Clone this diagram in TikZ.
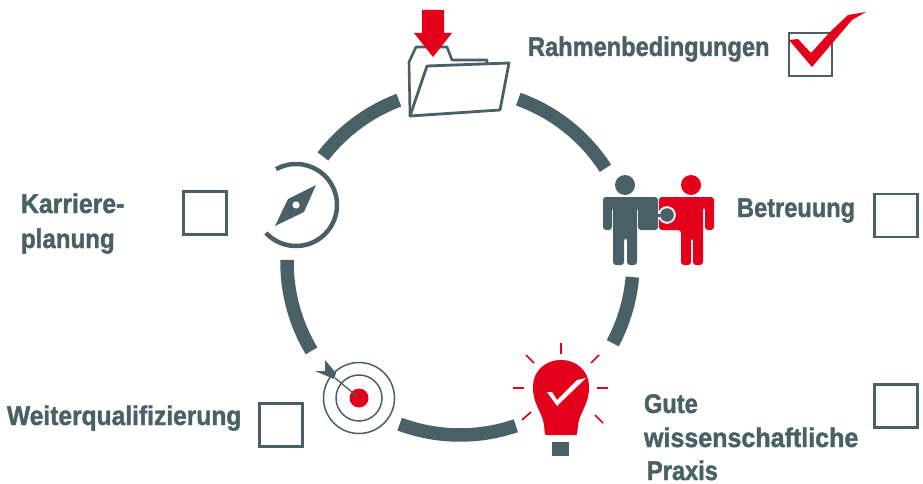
\documentclass[tikz,border=0pt]{standalone}
\usepackage{fontspec}
\newfontface\lblface{Liberation Sans Bold}[FakeStretch=0.875,FakeBold=1.4]
\definecolor{slate}{HTML}{47605F}
\definecolor{slate}{HTML}{486066}
\definecolor{signal}{HTML}{E2001A}
\tikzset{
 lbl/.style={anchor=base west,inner sep=0pt,outer sep=0pt,text=slate,font=\lblface\fontsize{27}{30}\selectfont},
 tick/.style={draw=slate,line width=2.6pt,fill=white,minimum size=43pt,inner sep=0pt},
 ringarc/.style={draw=slate,line width=13.5pt},
 ray/.style={draw=signal,line width=1.7pt},
 ringline/.style={draw=slate,line width=1.5pt},
}
\begin{document}
\begin{tikzpicture}[x=1pt,y=-1pt]
\useasboundingbox (0,0) rectangle (923,484);
% ring
\foreach \a/\b in {70.3/32.8, -5/-28, -71.2/-110.4, -149.1/-180.7, 142.4/110.7}{
 \draw[ringarc] plot[domain=\a:\b,samples=40,smooth] ({460+173*cos(\x)},{262-173*sin(\x)});
}
% folder
\draw[slate,line width=2.6pt,line join=round,fill=white] (410,116)--(409,62)--(416,47)--(447,47)--(452,60)--(487,60)--(487,63);
\draw[slate,line width=2.8pt,line join=round,fill=white] (427,66)--(509,63)--(500,110)--(410,116)--cycle;
\fill[signal] (422,10)--(444,10)--(444,33)--(452,33)--(433,57)--(414,33)--(422,33)--cycle;
% big check box
\node[tick] (box1) at (810.5,54.5) {};
\fill[signal] (789,40)--(798,39)--(811,53)--(830,32)--(848,15)--(866,12)--(852,20)--(812,67)--cycle;
% persons
\fill[slate] (625,185) circle[radius=10];
\fill[slate,rounded corners=3pt] (603,230)--(603,197)--(658,197)--(658,230)--(638,230)--(638,207)--(637,207)--(637,265)--(627,265)--(627,238)--(624,238)--(624,265)--(613,265)--(613,207)--(612,207)--(612,230)--cycle;
\fill[signal] (691,185) circle[radius=10];
\fill[signal,rounded corners=3pt] (659,197)--(714,197)--(714,230)--(705,230)--(705,207)--(703,207)--(703,265)--(693,265)--(693,238)--(691,238)--(691,265)--(681,265)--(681,230)--(659,230)--cycle;
\fill[white] (667,215) circle[radius=8.8];
\fill[white] (659,212.5) rectangle (668,217.5);
\fill[slate] (667,215) circle[radius=6.8];
\fill[slate] (657,213.5) rectangle (665,216.5);
% bulb
\fill[signal,rounded corners=1pt] (545,435)--(544,425) .. controls (542,412) and (533,404) .. (533,387)
 .. controls (533,371) and (546,360) .. (561,360) .. controls (576,360) and (589,371) .. (589,387)
 .. controls (589,404) and (580,412) .. (578,425)--(577,435)--cycle;
\fill[white] (547,392)--(552,392)--(557,400)--(577,380)--(586,378)--(557,406)--cycle;
\fill[slate] (552,442) rectangle (569,456);
\draw[ray] (561,343)--(561,354);
\draw[ray] (526,355)--(534,363);
\draw[ray] (599,355)--(591,363);
\draw[ray] (513,388)--(524,388);
\draw[ray] (597,388)--(608,388);
\draw[ray] (522,420)--(531,412);
\draw[ray] (603,423)--(595,415);
% target
\draw[ringline] (359,398) circle[radius=35.5];
\draw[ringline] (359,398) circle[radius=23];
\fill[signal] (359,398) circle[radius=9.5];
\draw[slate,line width=1.3pt] (358,397)--(335,378);
\fill[slate] (325,360)--(336,373)--(334,379)--(315,371)--(325,371)--cycle;
% compass
\draw[slate,line width=4.5pt] plot[domain=119:-137,samples=60,smooth] ({296+41*cos(\x)},{205-41*sin(\x)});
\fill[slate] (316,185)--(304,212)--(275,226)--(288,199)--cycle;
\fill[white] (296,205) circle[radius=3.6];
% text
\node[lbl] (t1) at (528,56) {Rahmenbedingungen};
\node[lbl] (t2) at (737,217) {Betreuung};
\node[lbl] (t3a) at (644,413) {Gute};
\node[lbl,transform shape,xscale=1.06] (t3b) at (644,447) {wissenschaftliche};
\node[lbl] (t3c) at (647,480) {Praxis};
\node[lbl,transform shape,xscale=1.04] (t4) at (7,425) {Weiterqualifizierung};
\node[lbl,transform shape,xscale=1.05] (t5a) at (21,213) {Karriere-};
\node[lbl,transform shape,xscale=1.02] (t5b) at (21,248) {planung};
% boxes
\node[tick] (box2) at (896,215.5) {};
\node[tick] (box3) at (896,406) {};
\node[tick] (box4) at (281,425) {};
\node[tick] (box5) at (205,213) {};
\end{tikzpicture}
\end{document}
